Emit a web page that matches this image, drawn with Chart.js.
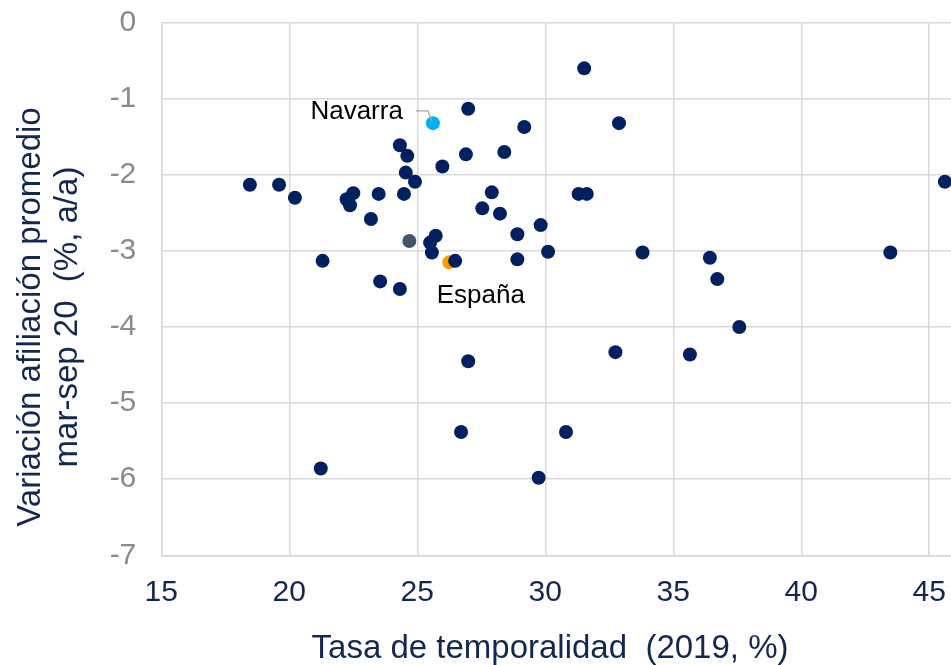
<!DOCTYPE html>
<html>
<head>
<meta charset="utf-8">
<script src="https://cdn.jsdelivr.net/npm/chart.js@4.4.1/dist/chart.umd.min.js"></script>
<style>
  html, body { margin: 0; padding: 0; background: #ffffff; overflow: hidden; }
  #wrap { width: 951px; height: 665px; overflow: hidden; }
  #c { display: block; }
</style>
</head>
<body>
<!-- The canvas runs 7px past the frame so the plot area reaches the right edge
     (Chart.js keeps half a point of room beside the chart area). -->
<div id="wrap"><canvas id="c" width="958" height="665"></canvas></div>
<script>
// Provincias: tasa de temporalidad 2019 (%) vs variación afiliación mar-sep 20 (%, a/a)
const provX = [18.46, 19.60, 20.22, 21.30, 21.23, 22.50, 22.24, 22.37, 23.49, 23.19,
               23.55, 24.32, 24.61, 24.55, 24.91, 24.48, 24.32, 26.99, 25.98, 26.90,
               28.40, 29.18, 31.52, 32.88, 27.91, 27.54, 28.23, 29.82, 28.91, 31.30,
               31.62, 25.72, 25.50, 25.57, 26.48, 28.91, 30.11, 33.80, 36.43, 36.72,
               37.58, 43.48, 45.61, 26.99, 32.74, 35.65, 26.71, 30.81, 29.74];
const provY = [-2.13, -2.13, -2.30, -3.13, -5.86, -2.24, -2.32, -2.40, -2.25, -2.58,
               -3.40, -1.61, -1.75, -1.97, -2.09, -2.25, -3.50, -1.13, -1.89, -1.73,
               -1.70, -1.37, -0.60, -1.32, -2.23, -2.44, -2.51, -2.66, -2.78, -2.25,
               -2.25, -2.80, -2.89, -3.02, -3.13, -3.11, -3.01, -3.02, -3.09, -3.37,
               -4.00, -3.02, -2.09, -4.45, -4.33, -4.36, -5.38, -5.38, -5.98];

// Puntos destacados
const otherX = [24.69];
const otherY = [-2.87];
const navarraX = [25.61];
const navarraY = [-1.32];
const espanaX = [26.25];
const espanaY = [-3.15];

const labelNavarra = 'Navarra';
const labelEspana = 'España';

const xTitle = 'Tasa de temporalidad  (2019, %)';
const yTitle = ['Variación afiliación promedio', 'mar-sep 20  (%, a/a)'];

const FONT = "'Liberation Sans', Arial, sans-serif";
const NAVY = '#002060';
const TEXT_NAVY = '#13284f';

function pts(xs, ys) { return xs.map((x, i) => ({ x: x, y: ys[i] })); }

const annotations = {
  id: 'annotations',
  afterDatasetsDraw(chart) {
    const ctx = chart.ctx;
    ctx.save();
    // Navarra con línea guía
    const nav = chart.getDatasetMeta(2).data[0];
    ctx.strokeStyle = '#a6a6a6';
    ctx.lineWidth = 1.2;
    ctx.beginPath();
    ctx.moveTo(nav.x - 17, nav.y - 12.3);
    ctx.lineTo(nav.x - 5, nav.y - 12.3);
    ctx.lineTo(nav.x - 0.5, nav.y - 1);
    ctx.stroke();
    ctx.fillStyle = '#000000';
    ctx.font = '26px ' + FONT;
    ctx.textAlign = 'right';
    ctx.textBaseline = 'middle';
    ctx.fillText(labelNavarra, nav.x - 30, nav.y - 11.5);
    // España
    const esp = chart.getDatasetMeta(3).data[0];
    ctx.textAlign = 'left';
    ctx.fillText(labelEspana, esp.x - 12.5, esp.y + 33.5);
    ctx.restore();
  }
};

const axisTitles = {
  id: 'axisTitles',
  afterDraw(chart) {
    const ctx = chart.ctx;
    ctx.save();
    ctx.fillStyle = TEXT_NAVY;
    ctx.font = '33px ' + FONT;
    ctx.textAlign = 'center';
    ctx.textBaseline = 'alphabetic';
    ctx.fillText(xTitle, 550, 658);
    ctx.translate(0, 317);
    ctx.rotate(-Math.PI / 2);
    ctx.fillText(yTitle[0], 0, 39.5);
    ctx.fillText(yTitle[1], 0, 77.3);
    ctx.restore();
  }
};

new Chart(document.getElementById('c'), {
  type: 'scatter',
  data: {
    datasets: [
      { data: pts(provX, provY), backgroundColor: NAVY, borderWidth: 0, pointRadius: 7, pointHoverRadius: 7 },
      { data: pts(otherX, otherY), backgroundColor: '#44546a', borderWidth: 0, pointRadius: 7, pointHoverRadius: 7 },
      { data: pts(navarraX, navarraY), backgroundColor: '#00b0f0', borderWidth: 0, pointRadius: 7, pointHoverRadius: 7 },
      { data: pts(espanaX, espanaY), backgroundColor: '#ff9a00', borderWidth: 0, pointRadius: 7, pointHoverRadius: 7 }
    ]
  },
  options: {
    responsive: false,
    animation: false,
    events: [],
    layout: { padding: { top: 22.7, right: 0, bottom: 0, left: 0 } },
    plugins: { legend: { display: false }, tooltip: { enabled: false } },
    scales: {
      x: {
        type: 'linear',
        min: 15,
        max: 45.85,
        border: { color: '#d9d9d9', width: 1.5 },
        grid: { color: '#d9d9d9', lineWidth: 1.5, drawTicks: false },
        ticks: {
          stepSize: 5,
          includeBounds: false,
          color: TEXT_NAVY,
          font: { family: FONT, size: 30 },
          padding: 19,
          maxRotation: 0
        },
        afterFit(scale) {
          scale.height = 665 - 555.3;
          scale.paddingLeft = 0;
          scale.paddingRight = 0;
        }
      },
      y: {
        type: 'linear',
        min: -7,
        max: 0,
        border: { color: '#d9d9d9', width: 1.5 },
        grid: { color: '#d9d9d9', lineWidth: 1.5, drawTicks: false },
        ticks: {
          stepSize: 1,
          color: '#8a8a8a',
          font: { family: FONT, size: 30 },
          padding: 25
        },
        afterFit(scale) {
          scale.width = 161.3;
          scale.paddingTop = 0;
          scale.paddingBottom = 0;
        }
      }
    }
  },
  plugins: [annotations, axisTitles]
});
</script>
</body>
</html>
